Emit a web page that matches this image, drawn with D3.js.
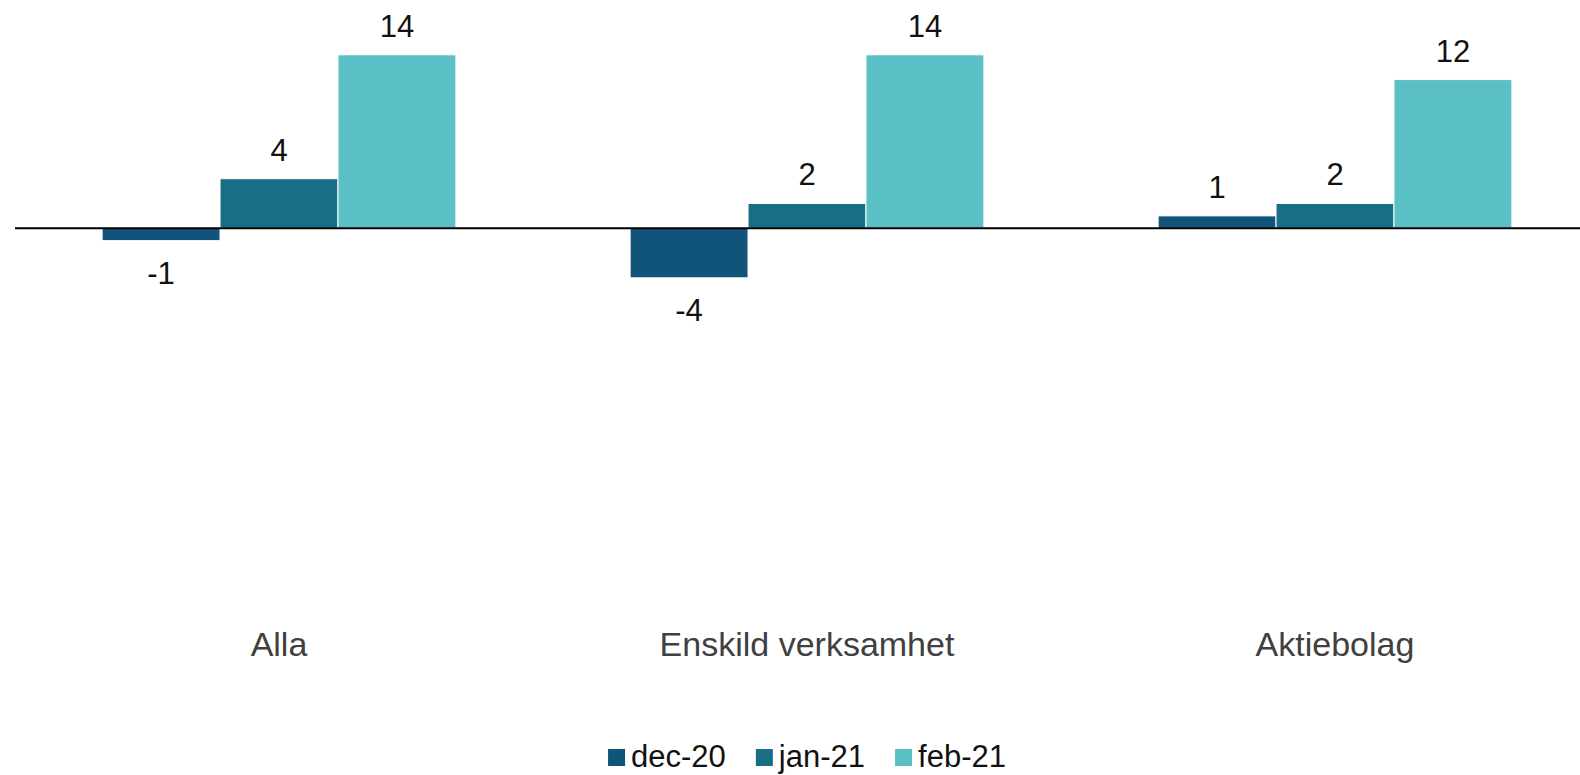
<!DOCTYPE html>
<html>
<head>
<meta charset="utf-8">
<script src="https://cdn.jsdelivr.net/npm/d3@7"></script>
<style>
  body { margin: 0; background: #fff; }
  svg { display: block; font-family: "Liberation Sans", Arial, sans-serif; }
</style>
</head>
<body>
<div id="chart"></div>
<script>
// data
var categories = ["Alla", "Enskild verksamhet", "Aktiebolag"];
var seriesNames = ["dec-20", "jan-21", "feb-21"];
var dec20 = [-1, -4, 1];
var jan21 = [4, 2, 2];
var feb21 = [14, 14, 12];
var colors = ["#11547a", "#196d84", "#5ac0c5"];

var w = 1580;
var h = 775;

var svg = d3.select("#chart")
  .append("svg")
  .attr("width", w)
  .attr("height", h);

var series = [dec20, jan21, feb21];

var x0 = d3.scaleBand()
  .domain(categories)
  .range([15, 1599])
  .paddingInner(0.33)
  .paddingOuter(0.165);

var x1 = d3.scaleBand()
  .domain(seriesNames)
  .range([0, x0.bandwidth()]);

var y = d3.scaleLinear()
  .domain([-30, 16])
  .range([600, 30]);

var color = d3.scaleOrdinal().domain(seriesNames).range(colors);

// flatten into rows
var rows = [];
categories.forEach(function(c, i) {
  seriesNames.forEach(function(s, j) {
    rows.push({ cat: c, name: s, value: series[j][i] });
  });
});

svg.selectAll("rect.bar")
  .data(rows)
  .enter()
  .append("rect")
  .attr("class", "bar")
  .attr("x", function(d) { return x0(d.cat) + x1(d.name); })
  .attr("width", x1.bandwidth())
  .attr("y", function(d) { return y(Math.max(0, d.value)); })
  .attr("height", function(d) { return Math.abs(y(d.value) - y(0)); })
  .attr("fill", function(d) { return color(d.name); })
  .attr("stroke", "#fff")
  .attr("stroke-width", 1);

// zero line
svg.append("line")
  .attr("x1", 15)
  .attr("x2", w)
  .attr("y1", y(0))
  .attr("y2", y(0))
  .attr("stroke", "#000")
  .attr("stroke-width", 2);

// value labels (plain hyphen for negatives, like the original)
svg.selectAll("text.val")
  .data(rows)
  .enter()
  .append("text")
  .attr("class", "val")
  .attr("x", function(d) { return x0(d.cat) + x1(d.name) + x1.bandwidth() / 2; })
  .attr("y", function(d) {
    return d.value >= 0 ? y(d.value) - 18 : y(d.value) + 43;
  })
  .attr("text-anchor", "middle")
  .attr("font-size", 31)
  .attr("fill", "#111")
  .text(function(d) { return String(d.value); });

// category labels
svg.selectAll("text.cat")
  .data(categories)
  .enter()
  .append("text")
  .attr("class", "cat")
  .attr("x", function(d) { return x0(d) + x0.bandwidth() / 2; })
  .attr("y", 656)
  .attr("text-anchor", "middle")
  .attr("font-size", 34)
  .attr("fill", "#404040")
  .text(function(d) { return d; });

// legend
var legend = svg.append("g");
var lx = 0;
var gap = 30;
seriesNames.forEach(function(s) {
  var g = legend.append("g").attr("transform", "translate(" + lx + ",0)");
  g.append("rect")
    .attr("x", 0)
    .attr("y", 749)
    .attr("width", 17)
    .attr("height", 17)
    .attr("fill", color(s));
  var t = g.append("text")
    .attr("x", 23)
    .attr("y", 767)
    .attr("font-size", 31)
    .attr("fill", "#111")
    .text(s);
  lx += 23 + t.node().getComputedTextLength() + gap;
});
var lw = lx - gap;
var plotMid = (x0.range()[0] + x0.range()[1]) / 2;
legend.attr("transform", "translate(" + (plotMid - lw / 2) + ",0)");
</script>
</body>
</html>
